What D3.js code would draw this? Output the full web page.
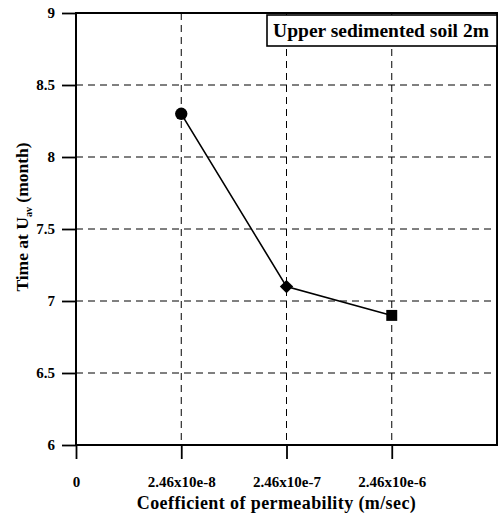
<!DOCTYPE html>
<html>
<head>
<meta charset="utf-8">
<script src="https://cdn.jsdelivr.net/npm/d3@7"></script>
<style>
  html, body { margin: 0; padding: 0; background: #fff; }
  svg { display: block; }
  svg text { font-family: "Liberation Serif", "Times New Roman", "DejaVu Serif", serif !important; font-weight: bold; fill: #000; }
</style>
</head>
<body>
<script>
// Permeability categories (placed at index positions 1..3 on the x axis)
const categories = ["2.46x10e-8", "2.46x10e-7", "2.46x10e-6"];
const timeValues = [8.3, 7.1, 6.9];
const markerShapes = ["circle", "diamond", "square"];
const xTickLabels = ["0", "2.46x10e-8", "2.46x10e-7", "2.46x10e-6"];
const yTicks = [6, 6.5, 7, 7.5, 8, 8.5, 9];
const legendLabel = "Upper sedimented soil 2m";

const W = 499, H = 518;
const plotL = 76, plotR = 497, plotT = 13, plotB = 445;

const svg = d3.select("body").append("svg").attr("width", W).attr("height", H);

const x = d3.scaleLinear().domain([0, 4]).range([plotL, plotR]);
const y = d3.scaleLinear().domain([6, 9]).range([plotB, plotT]);

// dashed grid
const grid = svg.append("g").attr("stroke", "#000").attr("stroke-width", 1).attr("stroke-dasharray", "7,5");
grid.selectAll("line.h").data(yTicks.filter(d => d > 6 && d < 9)).join("line")
  .attr("x1", plotL).attr("x2", plotR).attr("y1", d => y(d)).attr("y2", d => y(d));
grid.selectAll("line.v").data(d3.range(1, 4)).join("line")
  .attr("x1", d => x(d)).attr("x2", d => x(d)).attr("y1", plotT).attr("y2", plotB);

// axes
const yAxis = d3.axisLeft(y).tickValues(yTicks).tickSize(14).tickPadding(7)
  .tickFormat(d => d3.format("~g")(d));
const gy = svg.append("g").attr("transform", `translate(${plotL},0)`).call(yAxis)
  .attr("font-family", null);
gy.select(".domain").remove();
gy.selectAll(".tick line").attr("stroke", "#000").attr("stroke-width", 1.8);
gy.selectAll(".tick text").style("font-size", "15px").attr("fill", "#000");

const xAxis = d3.axisBottom(x).tickValues([0, 1, 2, 3]).tickSize(14).tickPadding(17)
  .tickFormat((d, i) => xTickLabels[i]);
const gx = svg.append("g").attr("transform", `translate(0,${plotB})`).call(xAxis)
  .attr("font-family", null);
gx.select(".domain").remove();
gx.selectAll(".tick line").attr("stroke", "#000").attr("stroke-width", 1.8);
gx.selectAll(".tick text").style("font-size", "15px").attr("fill", "#000");

// plot frame
svg.append("rect").attr("x", plotL).attr("y", plotT).attr("width", plotR - plotL).attr("height", plotB - plotT)
  .attr("fill", "none").attr("stroke", "#000").attr("stroke-width", 2);

// data line
const pts = timeValues.map((v, i) => ({ xv: i + 1, v, shape: markerShapes[i] }));
svg.append("path").datum(pts)
  .attr("d", d3.line().x(d => x(d.xv)).y(d => y(d.v)))
  .attr("fill", "none").attr("stroke", "#000").attr("stroke-width", 1.6);

// markers: circle, diamond (square turned 45°), square
const symbolType = { circle: d3.symbolCircle, diamond: d3.symbolSquare, square: d3.symbolSquare };
const symbolSize = { circle: 120, diamond: 90, square: 120 };
const symbolRot = { circle: 0, diamond: 45, square: 0 };
svg.selectAll("path.mk").data(pts).join("path")
  .attr("transform", d => `translate(${x(d.xv)},${y(d.v)}) rotate(${symbolRot[d.shape]})`)
  .attr("d", d => d3.symbol(symbolType[d.shape], symbolSize[d.shape])())
  .attr("fill", "#000");

// legend box
svg.append("rect").attr("x", 267).attr("y", 15).attr("width", plotR - 267).attr("height", 31)
  .attr("fill", "#fff").attr("stroke", "#000").attr("stroke-width", 1.6);
svg.append("text").attr("x", 381).attr("y", 37).attr("text-anchor", "middle")
  .style("font-size", "19.5px").text(legendLabel);

// axis titles
svg.append("text").attr("x", (plotL + plotR) / 2 - 10).attr("y", 509).attr("text-anchor", "middle")
  .style("font-size", "18px").style("letter-spacing", "0.4px").text("Coefficient of permeability (m/sec)");

const yt = svg.append("text").attr("transform", `translate(28,217) rotate(-90)`)
  .attr("text-anchor", "middle").style("font-size", "17.5px");
yt.append("tspan").text("Time at U");
yt.append("tspan").attr("dy", 4).style("font-size", "10px").text("av");
yt.append("tspan").attr("dy", -4).text(" (month)");
</script>
</body>
</html>
